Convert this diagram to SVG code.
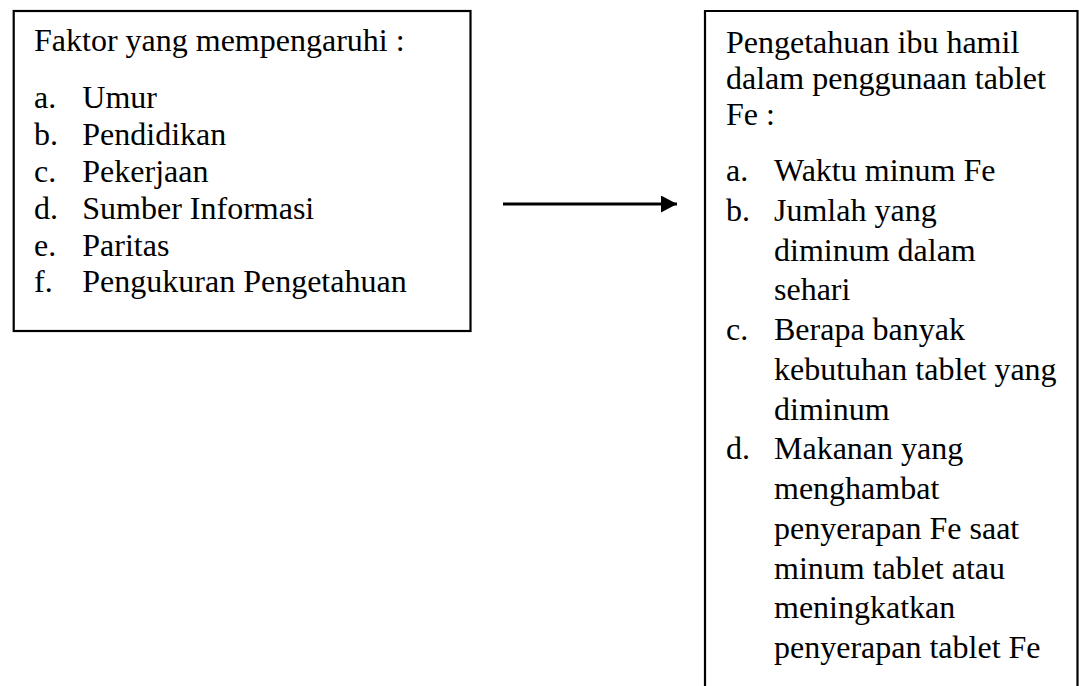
<svg xmlns="http://www.w3.org/2000/svg" width="1079" height="686" viewBox="0 0 1079 686">
  <style>
    .box { fill: #ffffff; stroke: #000000; stroke-width: 2.2; }
    .t { font-family: "Liberation Serif", "Times New Roman", serif; font-size: 32px; fill: #000000; }
    .conn { stroke: #000000; stroke-width: 3; fill: none; }
  </style>
  <defs>
    <marker id="arrow" markerUnits="userSpaceOnUse" markerWidth="16" markerHeight="17" refX="16" refY="8.5" orient="auto">
      <path d="M0,0 L16,8.5 L0,17 Z" fill="#000000"/>
    </marker>
  </defs>
  <rect width="1079" height="686" fill="#ffffff"/>

  <g id="node-faktor">
    <rect class="box" x="13.7" y="11" width="456.8" height="320"/>
    <text class="t" x="34" y="50.7">Faktor yang mempengaruhi :</text>
    <text class="t" x="34" y="108.3">a.</text><text class="t" x="82.3" y="108.3">Umur</text>
    <text class="t" x="34" y="145.1">b.</text><text class="t" x="82.3" y="145.1">Pendidikan</text>
    <text class="t" x="34" y="181.9">c.</text><text class="t" x="82.3" y="181.9">Pekerjaan</text>
    <text class="t" x="34" y="218.7">d.</text><text class="t" x="82.3" y="218.7">Sumber Informasi</text>
    <text class="t" x="34" y="255.5">e.</text><text class="t" x="82.3" y="255.5">Paritas</text>
    <text class="t" x="34" y="292.3">f.</text><text class="t" x="82.3" y="292.3">Pengukuran Pengetahuan</text>
  </g>

  <g id="node-pengetahuan">
    <path class="box" d="M705,700 L705,11 L1077.5,11 L1077.5,700"/>
    <text class="t" x="726" y="52.5">Pengetahuan ibu hamil</text>
    <text class="t" x="726" y="88.5">dalam penggunaan tablet</text>
    <text class="t" x="726" y="124.5">Fe :</text>
    <text class="t" x="726" y="181">a.</text><text class="t" x="774" y="181">Waktu minum Fe</text>
    <text class="t" x="726" y="220.8">b.</text><text class="t" x="774" y="220.8">Jumlah yang</text>
    <text class="t" x="774" y="260.5">diminum dalam</text>
    <text class="t" x="774" y="300.3">sehari</text>
    <text class="t" x="726" y="340">c.</text><text class="t" x="774" y="340">Berapa banyak</text>
    <text class="t" x="774" y="379.8">kebutuhan tablet yang</text>
    <text class="t" x="774" y="419.5">diminum</text>
    <text class="t" x="726" y="459.3">d.</text><text class="t" x="774" y="459.3">Makanan yang</text>
    <text class="t" x="774" y="499">menghambat</text>
    <text class="t" x="774" y="538.8">penyerapan Fe saat</text>
    <text class="t" x="774" y="578.5">minum tablet atau</text>
    <text class="t" x="774" y="618.3">meningkatkan</text>
    <text class="t" x="774" y="658">penyerapan tablet Fe</text>
  </g>

  <g id="connectors">
    <line class="conn" x1="503" y1="204" x2="677" y2="204" marker-end="url(#arrow)"/>
  </g>
</svg>
